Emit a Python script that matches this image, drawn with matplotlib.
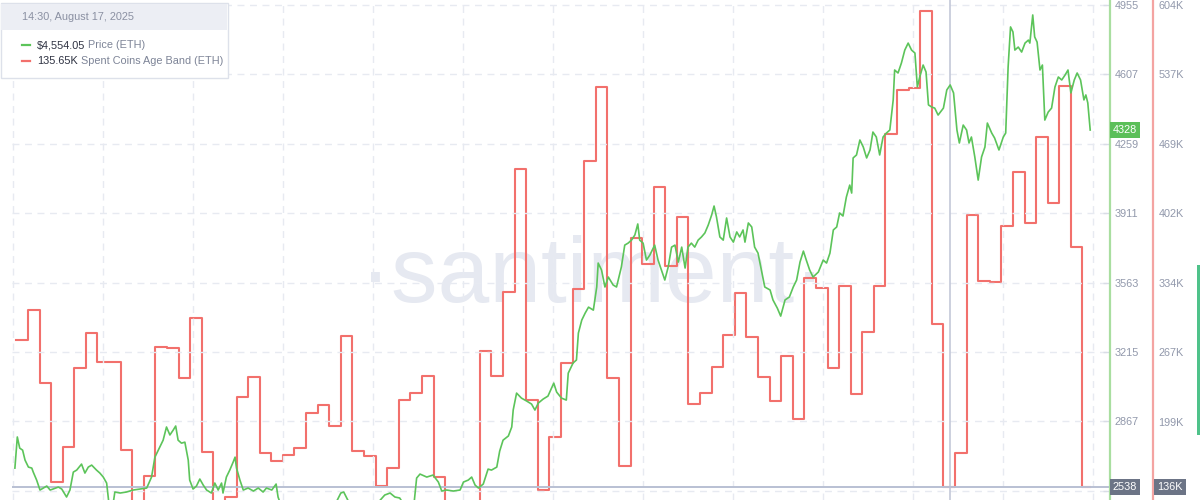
import numpy as np
import matplotlib
matplotlib.use("Agg")
import matplotlib.pyplot as plt
from matplotlib.patches import Rectangle
from matplotlib.lines import Line2D
import matplotlib.transforms as mtransforms

plt.rcParams['font.family'] = ['Liberation Sans', 'DejaVu Sans']

# ---------------- data (hours / days counted from 2025-05-30 00:00) ----------------
price_hours = [-27,-22,-17,-11,-6,1,8,11,18,25,32,39,46,52,63,70,80,87,94,101,111,118,125,132,142,149,156,163,170,176,
               180,191,204,218,232,246,256,263,273,280,287,294,301,306,311,318,325,332,335,342,349,356,363,370,380,387,
               394,401,404,411,418,425,429,432,439,446,456,467,477,487,494,505,514,518,528,543,555,567,578,590,605,621,
               636,648,654,663,677,692,708,725,739,750,760,770,781,791,799,805,812,826,839,850,857,867,881,895,902,912,
               919,926,933,943,953,960,971,977,984,995,1002,1005,1012,1022,1033,1043,1050,1057,1067,1077,1089,1095,1105,
               1115,1119,1129,1136,1140,1147,1154,1161,1171,1178,1181,1188,1195,1202,1212,1219,1229,1236,1243,1250,1257,
               1263,1267,1274,1281,1288,1298,1305,1312,1319,1326,1333,1340,1347,1354,1361,1367,1374,1381,1388,1395,1402,
               1409,1416,1421,1426,1433,1440,1447,1454,1461,1468,1474,1481,1485,1492,1499,1505,1512,1519,1526,1537,1543,
               1552,1559,1568,1577,1585,1592,1599,1606,1612,1619,1626,1637,1647,1654,1661,1668,1675,1681,1688,1695,1702,
               1706,1709,1716,1723,1730,1737,1744,1750,1757,1764,1771,1778,1785,1792,1795,1802,1809,1816,1823,1830,1837,
               1842,1847,1854,1860,1865,1872,1878,1885,1896,1903,1910,1917,1924,1929,1937,1944,1949,1954,1961,1968,1975,
               1982,1987,1996,2002,2011,2020,2025,2030,2035,2040,2044,2051,2058,2065,2072,2075,2081,2085,2090,2096,2101,
               2106,2113,2120,2127,2134,2141,2148,2154,2160,2167,2173,2180,2187,2191,2195,2200]
price_usd = [2633,2789,2733,2723,2673,2638,2633,2613,2573,2523,2533,2543,2523,2528,2538,2528,2488,2523,2613,2623,2653,2608,
             2638,2648,2623,2608,2588,2558,2407,2447,2513,2508,2513,2523,2528,2533,2588,2688,2738,2773,2839,2799,2824,2844,
             2773,2758,2763,2673,2573,2528,2543,2578,2548,2523,2508,2558,2523,2558,2508,2588,2623,2663,2688,2633,2573,2523,
             2533,2518,2533,2513,2533,2523,2553,2488,2420,2360,2280,2230,2250,2380,2420,2440,2450,2508,2513,2470,2440,2430,
             2450,2460,2498,2508,2488,2483,2440,2420,2440,2583,2603,2588,2598,2563,2518,2523,2518,2523,2563,2573,2588,2548,
             2533,2553,2628,2623,2638,2718,2773,2794,2839,2924,3009,2984,2969,2954,2924,2959,2979,2994,3059,3014,2984,2974,
             3109,3160,3175,3310,3375,3410,3440,3425,3541,3661,3626,3541,3591,3551,3541,3641,3751,3761,3776,3802,3857,3776,
             3761,3676,3701,3751,3676,3626,3576,3641,3741,3751,3666,3741,3636,3741,3761,3741,3776,3792,3812,3852,3902,3947,
             3892,3792,3776,3887,3792,3766,3817,3792,3827,3766,3862,3842,3741,3711,3626,3541,3526,3476,3435,3395,3476,3491,
             3541,3576,3666,3721,3676,3626,3591,3616,3676,3661,3711,3827,3842,3912,3897,3992,4052,4012,4188,4203,4278,4243,
             4188,4228,4318,4293,4203,4293,4313,4328,4479,4629,4614,4664,4729,4764,4729,4714,4544,4594,4654,4619,4454,4443,
             4438,4403,4438,4529,4554,4514,4328,4263,4353,4328,4263,4293,4193,4077,4193,4243,4363,4313,4288,4228,4293,4313,
             4644,4845,4820,4729,4744,4719,4764,4779,4764,4905,4795,4769,4629,4654,4378,4418,4438,4544,4594,4579,4604,4629,
             4514,4579,4614,4579,4479,4504,4464,4328]

band_days = list(range(-1, 92))
band_k = [279,308,237,141,175,251,285,257,257,172,114,146,272,271,242,300,170,118,126,223,243,169,161,167,174,208,215,195,
          282,171,166,137,154,220,227,244,145,112,110,115,268,244,325,445,220,133,184,256,328,452,524,242,156,378,352,427,
          350,398,216,227,252,283,324,281,243,219,263,202,339,329,251,331,226,286,331,479,521,523,598,294,136,169,400,336,
          335,389,442,392,476,412,525,369,136]

price_ticks = [4955, 4607, 4259, 3911, 3563, 3215, 2867, 2519]
band_ticks = [604, 537, 469, 402, 334, 267, 199, 132]

hover_hour = 1910.5
hover_title = "14:30, August 17, 2025"
hover_price_text = "$4,554.05"
hover_band_text = "135.65K"
last_price = 4328
cross_price = 2538
cross_band = 136

# ---------------- styling ----------------
W, H = 1200, 500
GREEN = '#5cc45a'
RED = '#f2706c'
TICK_C = '#9198ab'
GRID_C = '#e7eaf1'

fig = plt.figure(figsize=(W / 100, H / 100), dpi=100)
fig.patch.set_facecolor('white')

ax = fig.add_axes([12 / W, 0, 1098 / W, 1])
ax2 = ax.twinx()
ax.set_zorder(ax2.get_zorder() + 1)
ax.patch.set_visible(False)
ax2.patch.set_visible(False)

ax.set_xlim(-33, 2241)
ax.set_ylim(2473, 4980)
ax2.set_ylim(123.1, 608.8)

# grid
for t in price_ticks:
    ax.axhline(t, color=GRID_C, lw=1, ls=(0, (5, 4)), zorder=0)
for gx in np.arange(-31, 2241, 186.4):
    ax.axvline(gx, color=GRID_C, lw=1, ls=(0, (5, 4)), zorder=0)

# series
band_x = [d * 24 for d in band_days] + [price_hours[-1]]
band_y = band_k + [band_k[-1]]
ax2.step(band_x, band_y, where='post', color=RED, lw=1.5, zorder=2)
ax.plot(price_hours, price_usd, color=GREEN, lw=1.2, zorder=3)

# crosshair
ax.axvline(hover_hour, color='#c3c8d8', lw=1.2, zorder=1)
ax.axhline(cross_price, color='#b9c0d3', lw=1.4, zorder=1)

# axes / spines
for s in ['top', 'left', 'bottom']:
    ax.spines[s].set_visible(False)
    ax2.spines[s].set_visible(False)
ax.spines['right'].set_color('#a9dea0')
ax.spines['right'].set_linewidth(1.6)
ax2.spines['right'].set_color('#f4a4a2')
ax2.spines['right'].set_linewidth(1.6)
ax2.spines['right'].set_position(('outward', 43 * 0.72))

ax.set_xticks([])
ax.yaxis.tick_right()
ax.set_yticks(price_ticks)
# the lowest labels sit under the crosshair badges, so they are left blank
ax.set_yticklabels([str(t) for t in price_ticks[:-1]] + [''])
ax.tick_params(axis='y', direction='in', length=5, width=1, color='#d9dde6',
               labelcolor=TICK_C, labelsize=7.8, pad=3.5)
ax2.set_yticks(band_ticks)
ax2.set_yticklabels([f"{v}K" for v in band_ticks[:-1]] + [''])
ax2.tick_params(axis='y', length=0, labelcolor=TICK_C, labelsize=7.8, pad=4)

# value badges
bt = mtransforms.blended_transform_factory(fig.transFigure, ax.transData)
bt2 = mtransforms.blended_transform_factory(fig.transFigure, ax2.transData)
ax.text(1125 / W, last_price, str(last_price), transform=bt, ha='center', va='center', color='white', fontsize=7.8,
        bbox=dict(boxstyle='square,pad=0.28', fc='#5bbf59', ec='none'), clip_on=False, zorder=10)
ax.text(1125 / W, cross_price, str(cross_price), transform=bt, ha='center', va='center', color='white', fontsize=7.8,
        bbox=dict(boxstyle='square,pad=0.28', fc='#6c7486', ec='none'), clip_on=False, zorder=10)
ax2.text(1170 / W, cross_band, f"{cross_band}K", transform=bt2, ha='center', va='center', color='white', fontsize=7.8,
         bbox=dict(boxstyle='square,pad=0.28', fc='#6c7486', ec='none'), clip_on=False, zorder=10)

# watermark
fig.text(593 / W, 1 - 302 / H, '·santiment·', ha='center', va='baseline', fontsize=67, color='#e6e9f1',
         zorder=-1)

# scroll indicator on right edge
fig.add_artist(Rectangle((1197 / W, 1 - 435 / H), 3 / W, 170 / H, transform=fig.transFigure,
                         fc='#4fc28a', ec='none'))

# legend box
fig.add_artist(Rectangle((0.5 / W, 1 - 78 / H), 227 / W, 75 / H, transform=fig.transFigure,
                         fc='white', ec='#dde1ea', lw=1, zorder=20))
fig.add_artist(Rectangle((1 / W, 1 - 30 / H), 226 / W, 26 / H, transform=fig.transFigure,
                         fc='#eceef4', ec='none', zorder=21))
fig.text(22 / W, 1 - 17 / H, hover_title, ha='left', va='center', fontsize=7.8, color='#8a90a2', zorder=22)

rows = [(45, GREEN, hover_price_text, 'Price (ETH)'),
        (61, RED, hover_band_text, 'Spent Coins Age Band (ETH)')]
fig.canvas.draw()
for yy, col, val, name in rows:
    fig.add_artist(Line2D([22 / W, 30 / W], [1 - yy / H, 1 - yy / H], transform=fig.transFigure,
                          color=col, lw=1.6, zorder=22))
    t1 = fig.text(37 / W, 1 - yy / H, val, ha='left', va='center', fontsize=7.8, color='#2c3040', zorder=22)
    fig.canvas.draw()
    bb = t1.get_window_extent()
    fig.text((bb.x1 + 3) / W, 1 - yy / H, name, ha='left', va='center', fontsize=7.8, color='#7d8497', zorder=22)

fig.savefig('out.png', dpi=100)
